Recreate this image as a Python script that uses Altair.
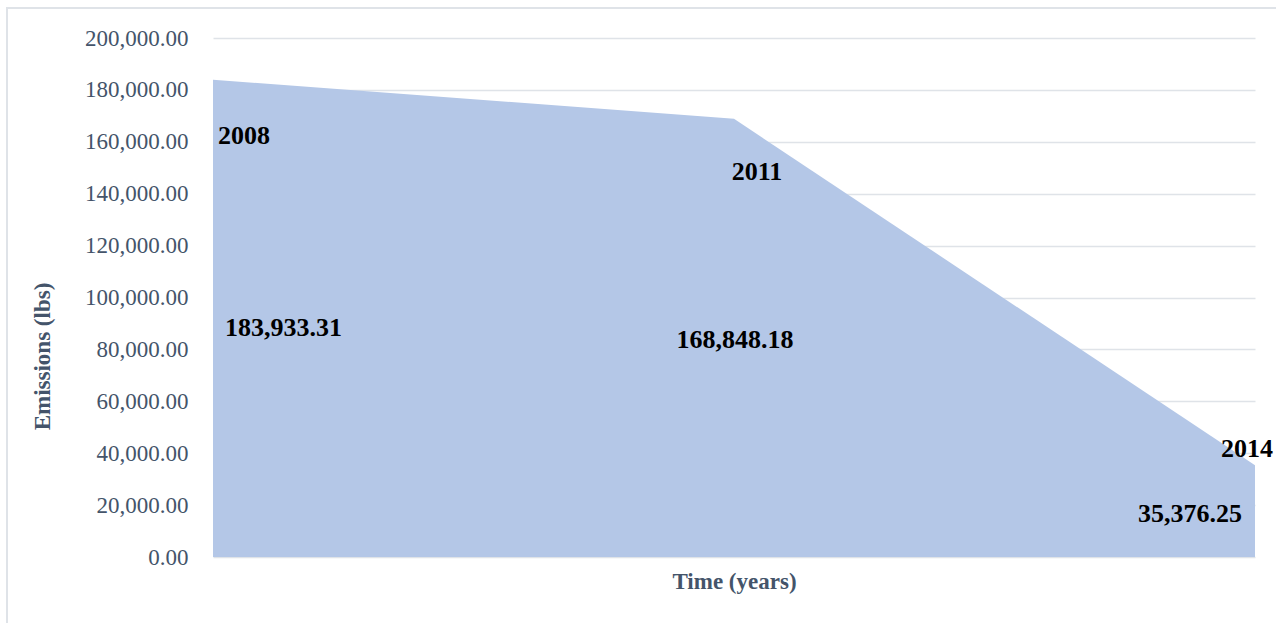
import altair as alt
import pandas as pd

years = ["2008", "2011", "2014"]
emissions = [183933.31, 168848.18, 35376.25]
value_labels = ["183,933.31", "168,848.18", "35,376.25"]
y_ticks = [0, 20000, 40000, 60000, 80000, 100000, 120000, 140000, 160000, 180000, 200000]

df = pd.DataFrame({"year": years, "value": emissions, "vlabel": value_labels})

FONT = "Liberation Serif"
AXIS_COLOR = "#44546a"

x_enc = alt.X(
    "year:O",
    scale=alt.Scale(type="point", padding=0),
    axis=alt.Axis(
        labels=False, ticks=False, domain=False, grid=False,
        title="Time (years)", titleFont=FONT, titleFontSize=23,
        titleFontWeight="bold", titleColor=AXIS_COLOR,
        titleY=24, titleBaseline="middle",
    ),
)
y_enc = alt.Y(
    "value:Q",
    scale=alt.Scale(domain=[0, 200000], nice=False),
    axis=alt.Axis(
        values=y_ticks, format=",.2f", ticks=False, domain=False,
        grid=True, gridColor="#dfe3e8", gridWidth=1.5,
        labelFont=FONT, labelFontSize=23, labelColor=AXIS_COLOR, labelPadding=25,
        title="Emissions (lbs)", titleFont=FONT, titleFontSize=23,
        titleFontWeight="bold", titleColor=AXIS_COLOR,
        titleX=-171, titleY=318, titleAngle=270, titleBaseline="middle", titleAlign="center",
    ),
)

base = alt.Chart(df)

area = base.mark_area(color="#b4c7e7", opacity=1).encode(x=x_enc, y=y_enc)

border = alt.Chart(pd.DataFrame({"b": [0]})).mark_rect(
    fill=None, stroke="#dfe3e8", strokeWidth=2
).encode(
    x=alt.value(-206), x2=alt.value(1100), y=alt.value(-30), y2=alt.value(680)
)

def label(year, field, dx, dy, align):
    return base.transform_filter(alt.datum.year == year).mark_text(
        font=FONT, fontSize=26, fontWeight="bold", color="black",
        align=align, baseline="middle", dx=dx, dy=dy,
    ).encode(x=alt.X("year:O"), y=alt.Y("value:Q"), text=f"{field}:N")

labels = [
    label("2008", "year", 5, 56, "left"),
    label("2008", "vlabel", 12, 248, "left"),
    label("2011", "year", 23, 53, "center"),
    label("2011", "vlabel", 1, 221, "center"),
    label("2014", "year", -8, -16, "center"),
    label("2014", "vlabel", -65, 49, "center"),
]

chart = alt.layer(border, area, *labels).properties(
    width=1042, height=519,
    autosize=alt.AutoSizeParams(type="none"),
    padding={"left": 213, "top": 38, "right": 21, "bottom": 66},
    background="white",
).configure_view(stroke=None)

chart.save("out.html", embed_options={"renderer": "svg", "actions": False})
